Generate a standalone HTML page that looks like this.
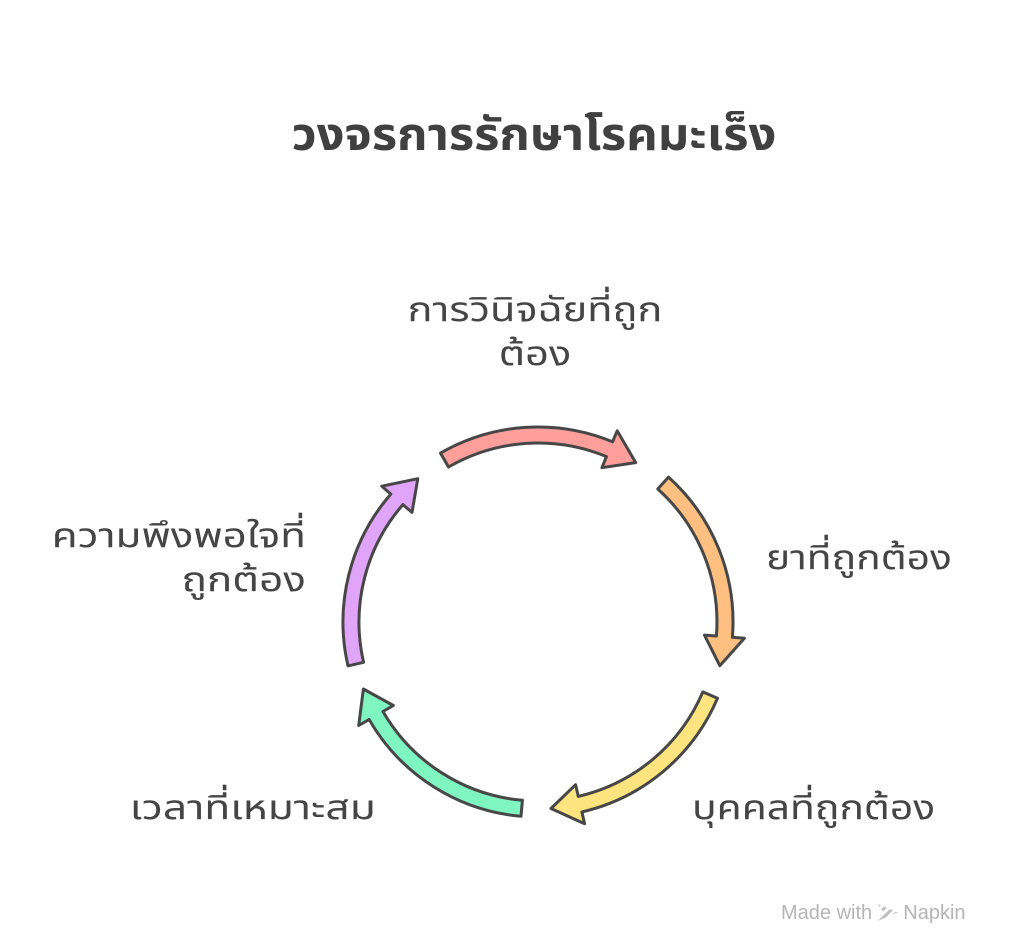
<!DOCTYPE html>
<html><head><meta charset="utf-8">
<style>
html,body{margin:0;padding:0;background:#fff;}
body{width:1024px;height:949px;position:relative;overflow:hidden;font-family:"Liberation Sans","Noto Sans Thai","Garuda","Loma","Tlwg Typo","DejaVu Sans",sans-serif;color:#454545;}
.t{position:absolute;white-space:nowrap;line-height:1.3;}
.l{font-size:34px;}
</style></head><body>
<div class="t" style="left:22px;width:1024px;top:106px;text-align:center;font-size:45px;font-weight:bold;color:#404040;transform:scaleX(1.085);transform-origin:512px 0;">วงจรการรักษาโรคมะเร็ง</div>
<div class="t l" style="left:380px;width:310px;top:288px;text-align:center;transform:scaleX(1.22);transform-origin:155px 0;">การวินิจฉัยที่ถูก<br>ต้อง</div>
<div class="t l" style="left:766px;top:536px;transform:scaleX(1.2);transform-origin:0 0;">ยาที่ถูกต้อง</div>
<div class="t l" style="left:692px;top:786px;transform:scaleX(1.2);transform-origin:0 0;">บุคคลที่ถูกต้อง</div>
<div class="t l" style="right:648px;top:786px;text-align:right;transform:scaleX(1.25);transform-origin:100% 0;">เวลาที่เหมาะสม</div>
<div class="t l" style="right:718px;top:514px;text-align:right;transform:scaleX(1.24);transform-origin:100% 0;">ความพึงพอใจที่<br>ถูกต้อง</div>
<div class="t" style="left:781px;top:900px;font-size:20px;color:#b5b5b5;">Made with <span style="display:inline-block;width:20px;height:17px;vertical-align:-2px;background:repeating-linear-gradient(135deg,#c0c0c0 0 3px,transparent 3px 6px);clip-path:polygon(0 0,100% 50%,0 100%,30% 50%);"></span> Napkin</div>
<svg id="s" width="1024" height="949" style="position:absolute;left:0;top:0"></svg>
<script>
var cx=538,cy=622,r=187,w=8,hw=20,hl=9*Math.PI/180;
var arrows=[[-120,-58.5,"#ff9f9b"],[-48,13.5,"#ffbf80"],[23,86,"#fde47f"],[95,159,"#7ff5c1"],[167,230,"#e0a4f8"]];
function p(R,a){return (cx+R*Math.cos(a)).toFixed(1)+","+(cy+R*Math.sin(a)).toFixed(1);}
var out="";
arrows.forEach(function(A){
 var a0=A[0]*Math.PI/180,a1=A[1]*Math.PI/180,ab=a1-hl;
 var d="M"+p(r+w,a0)+" A"+(r+w)+","+(r+w)+" 0 0 1 "+p(r+w,ab)+" L"+p(r+hw,ab)+" L"+p(r,a1)+" L"+p(r-hw,ab)+" L"+p(r-w,ab)+" A"+(r-w)+","+(r-w)+" 0 0 0 "+p(r-w,a0)+" Z";
 out+='<path d="'+d+'" fill="'+A[2]+'" stroke="#474747" stroke-width="3" stroke-linejoin="round"/>';
});
document.getElementById("s").innerHTML=out;
</script>
</body></html>
